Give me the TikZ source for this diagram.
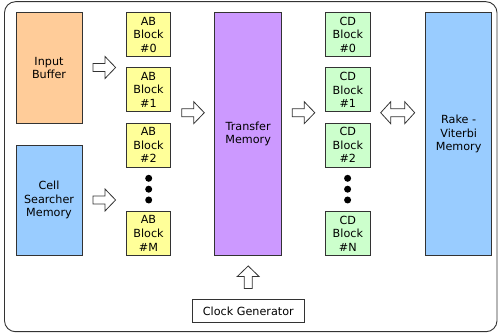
\documentclass[tikz,border=0pt]{standalone}
\usepackage{fontspec}
\setmainfont{DejaVu Sans}
\definecolor{ibfill}{HTML}{FFCC99}
\definecolor{bluefill}{HTML}{99CCFF}
\definecolor{abfill}{HTML}{FFFF99}
\definecolor{tmfill}{HTML}{CC99FF}
\definecolor{cdfill}{HTML}{CCFFCC}
\definecolor{edge}{HTML}{333333}
\begin{document}
\begin{tikzpicture}[x=1pt,y=-1pt,
  box/.style={draw=edge,line width=0.9pt,inner sep=0pt,align=center,
    font=\fontsize{11.2}{13.6}\selectfont},
  blk/.style={box,minimum width=44.5pt,minimum height=44pt},
  tall/.style={box,minimum width=66.5pt,minimum height=242.6pt},
  barrow/.pic={\draw[draw=edge,line width=0.8pt,fill=white,line join=miter]
     (-11.3,-4) -- (0.7,-4) -- (0.7,-11) -- (11.3,0) -- (0.7,11) -- (0.7,4) -- (-11.3,4) -- cycle;},
  dbarrow/.pic={\draw[draw=edge,line width=0.8pt,fill=white,line join=miter]
     (-7,-4) -- (7,-4) -- (7,-11) -- (17,0) -- (7,11) -- (7,4) -- (-7,4) -- (-7,11) -- (-17,0) -- (-7,-11) -- cycle;},
  dot/.style={circle,fill=black,inner sep=0pt,minimum size=7pt}
]
\useasboundingbox (0,0) rectangle (498,336);
\draw[draw=edge,line width=0.9pt,rounded corners=11pt] (4.5,1.7) rectangle (497,331.7);

\node[box,fill=ibfill,minimum width=66pt,minimum height=110.3pt] (ib) at (49,67.85) {Input\\Buffer};
\node[box,fill=bluefill,minimum width=66pt,minimum height=110.3pt] (cs) at (49,200.15) {Cell\\Searcher\\Memory};

\node[blk,fill=abfill] (ab0) at (148.5,34.7) {AB\\Block\\\#0};
\node[blk,fill=abfill] (ab1) at (148.5,89.85) {AB\\Block\\\#1};
\node[blk,fill=abfill] (ab2) at (148.5,145.15) {AB\\Block\\\#2};
\node[blk,fill=abfill] (abm) at (148.5,233.5) {AB\\Block\\\#M};
\node[dot] (abd1) at (148.7,178.3) {};
\node[dot] (abd2) at (148.7,189.2) {};
\node[dot] (abd3) at (148.7,200) {};

\node[tall,fill=tmfill] (tm) at (248.15,134) {Transfer\\Memory};

\node[blk,fill=cdfill] (cd0) at (347.85,34.7) {CD\\Block\\\#0};
\node[blk,fill=cdfill] (cd1) at (347.85,89.85) {CD\\Block\\\#1};
\node[blk,fill=cdfill] (cd2) at (347.85,145.15) {CD\\Block\\\#2};
\node[blk,fill=cdfill] (cdn) at (347.85,233.5) {CD\\Block\\\#N};
\node[dot] (cdd1) at (347.6,178.3) {};
\node[dot] (cdd2) at (347.6,189.2) {};
\node[dot] (cdd3) at (347.6,200) {};

\node[tall,fill=bluefill] (rv) at (458.65,134) {Rake -\\Viterbi\\Memory};

\node[box,fill=white,minimum width=111.3pt,minimum height=22.3pt] (cg) at (248.35,310.85) {Clock Generator};

\pic at (104.3,67.5) {barrow};
\pic at (104.3,200) {barrow};
\pic at (193,112.7) {barrow};
\pic at (303.5,112.7) {barrow};
\pic at (397.7,112.7) {dbarrow};
\pic[rotate=90] at (248.2,277.3) {barrow};
\end{tikzpicture}
\end{document}
